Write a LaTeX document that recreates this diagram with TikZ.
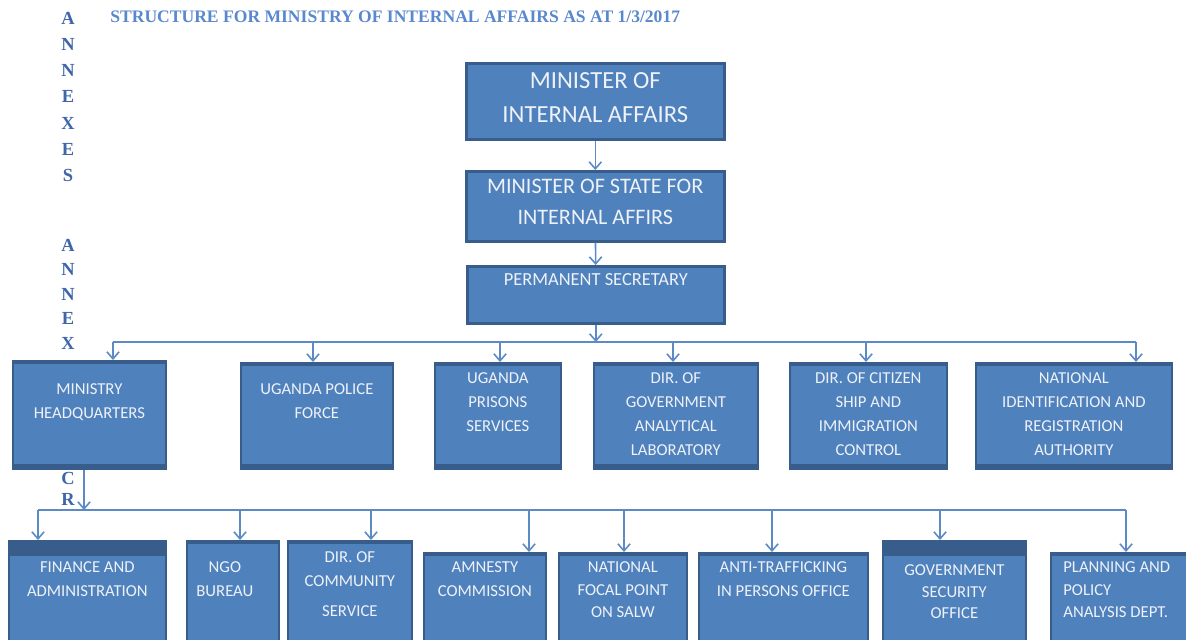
\documentclass[tikz,border=0pt]{standalone}
\usepackage{fontspec}
\usepackage{xcolor}
\usetikzlibrary{arrows.meta,positioning}

\newfontfamily\boxfont{Carlito}
\newfontfamily\headfont{Liberation Serif}

\definecolor{boxfill}{HTML}{4F81BD}
\definecolor{boxline}{HTML}{385D8A}
\definecolor{boxtext}{HTML}{EEF2F8}
\definecolor{linkblue}{HTML}{5B8AC4}
\definecolor{titleblue}{HTML}{5A88CC}
\definecolor{annexblue}{HTML}{3E66A8}

\begin{document}
\begin{tikzpicture}[
  x=0.02cm, y=-0.02cm,
  org/.style={draw=boxline, line width=1pt, fill=boxfill, anchor=north west, inner sep=0pt},
  band/.style={path picture={
      \fill[boxline] (path picture bounding box.north west) rectangle ([yshift=-#1]path picture bounding box.north east);
      \fill[boxline] (path picture bounding box.south west) rectangle ([yshift=2.5pt]path picture bounding box.south east);}},
  txt/.style={font=\boxfont\fontsize{9.5}{13.6}\selectfont, text=boxtext, align=center, inner sep=0pt, anchor=north},
  arr/.style={-{Straight Barb[length=4pt,width=7pt]}, draw=linkblue, line width=0.9pt},
  annex/.style={font=\headfont\bfseries\fontsize{10.5}{12}\selectfont, text=annexblue, inner sep=0pt}
]
\useasboundingbox (0,0) rectangle (1186,639);

% heading and the letters down the margin
\node[anchor=base west, inner sep=0pt, text=titleblue,
      font=\headfont\bfseries\fontsize{10}{12}\selectfont] (title) at (110,22.5)
  {STRUCTURE FOR MINISTRY OF INTERNAL AFFAIRS AS AT 1/3/2017};
\foreach \c [count=\i] in {A,N,N,E,X,E,S}
  \node[annex] (ua\i) at (68,{18+26.3*(\i-1)}) {\c};
\foreach \c [count=\i] in {A,N,N,E,X}
  \node[annex] (ub\i) at (68,{245+24.5*(\i-1)}) {\c};
\node[annex] (uc1) at (68,478) {C};
\node[annex] (uc2) at (68,499) {R};

% top of the tree
\node[org, line width=1.5pt, minimum width=5.16cm, minimum height=1.52cm,
      label={[txt, font=\boxfont\fontsize{14}{19.3}\selectfont, yshift=-0.2cm]north:MINISTER OF\\INTERNAL AFFAIRS}] (min) at (465,62) {};
\node[org, line width=1.5pt, minimum width=5.16cm, minimum height=1.40cm,
      label={[txt, font=\boxfont\fontsize{12.6}{17.6}\selectfont, yshift=-0.18cm]north:MINISTER OF STATE FOR\\INTERNAL AFFIRS}] (mos) at (465,170) {};
\node[org, line width=1.5pt, minimum width=5.14cm, minimum height=1.14cm,
      label={[txt, font=\boxfont\fontsize{10.5}{13}\selectfont, yshift=-0.16cm]north:PERMANENT SECRETARY}] (ps) at (466,265) {};

% departments and agencies
\node[org, band=1.6pt, minimum width=3.06cm, minimum height=2.16cm,
      label={[txt, yshift=-0.47cm]north:MINISTRY\\HEADQUARTERS}] (mhq) at (12,360) {};
\node[org, band=1.6pt, minimum width=3.04cm, minimum height=2.12cm,
      label={[txt, yshift=-0.43cm]north:UGANDA POLICE\\FORCE}] (upf) at (240,362) {};
\node[org, band=1.6pt, minimum width=2.52cm, minimum height=2.12cm,
      label={[txt, yshift=-0.21cm]north:UGANDA\\PRISONS\\SERVICES}] (ups) at (434,362) {};
\node[org, band=1.6pt, minimum width=3.28cm, minimum height=2.12cm,
      label={[txt, yshift=-0.21cm]north:DIR. OF\\GOVERNMENT\\ANALYTICAL\\LABORATORY}] (dgal) at (593,362) {};
\node[org, band=1.6pt, minimum width=3.14cm, minimum height=2.12cm,
      label={[txt, yshift=-0.21cm]north:DIR. OF CITIZEN\\SHIP AND\\IMMIGRATION\\CONTROL}] (dcic) at (789,362) {};
\node[org, band=1.6pt, minimum width=3.92cm, minimum height=2.12cm,
      label={[txt, yshift=-0.21cm]north:NATIONAL\\IDENTIFICATION AND\\REGISTRATION\\AUTHORITY}] (nira) at (975,362) {};

% units under headquarters
\node[org, band=8.5pt, minimum width=3.14cm, minimum height=2.1cm,
      label={[txt, yshift=-0.43cm]north:FINANCE AND\\ADMINISTRATION}] (fa) at (8,540) {};
\node[org, band=1.6pt, minimum width=1.84cm, minimum height=2.1cm,
      label={[txt, yshift=-0.43cm, xshift=-0.16cm]north:NGO\\BUREAU}] (ngo) at (186,540) {};
\node[org, band=1.6pt, minimum width=2.48cm, minimum height=2.1cm,
      label={[txt, yshift=-0.23cm]north:DIR. OF\\COMMUNITY\\[3.4pt]SERVICE}] (dcs) at (287,540) {};
\node[org, band=1.6pt, minimum width=2.44cm, minimum height=1.86cm,
      label={[txt, yshift=-0.19cm]north:AMNESTY\\COMMISSION}] (amn) at (423,552) {};
\node[org, band=1.6pt, minimum width=2.56cm, minimum height=1.86cm,
      label={[txt, yshift=-0.19cm, font=\boxfont\fontsize{9.5}{12.8}\selectfont]north:NATIONAL\\FOCAL POINT\\ON SALW}] (nfp) at (558,552) {};
\node[org, band=1.6pt, minimum width=3.38cm, minimum height=1.86cm,
      label={[txt, yshift=-0.19cm]north:ANTI-TRAFFICKING\\IN PERSONS OFFICE}] (atp) at (698,552) {};
\node[org, band=8.5pt, minimum width=2.86cm, minimum height=2.1cm,
      label={[txt, yshift=-0.49cm, font=\boxfont\fontsize{9.5}{12.2}\selectfont]north:GOVERNMENT\\SECURITY\\OFFICE}] (gso) at (882,540) {};
\node[org, band=1.6pt, minimum width=2.9cm, minimum height=1.86cm,
      label={[txt, align=left, anchor=north west, yshift=-0.19cm, xshift=0.26cm, font=\boxfont\fontsize{9.5}{12.8}\selectfont]north west:PLANNING AND\\POLICY\\ANALYSIS DEPT.}] (ppad) at (1050,552) {};

% chain of command
\draw[arr] (min) -- (mos);
\draw[arr] (mos) -- (ps);

% first bus and its drops
\coordinate (t-mhq) at (113,342);
\coordinate (t-upf) at (313,342);
\coordinate (t-ups) at (500,342);
\coordinate (t-dgal) at (673,342);
\coordinate (t-dcic) at (866,342);
\coordinate (t-nira) at (1136,342);
\draw[linkblue, line width=0.9pt] (t-mhq) -- (t-nira);
\draw[arr] (ps) -- (ps.south |- t-mhq);
\foreach \n in {mhq,upf,ups,dgal,dcic,nira}
  \draw[arr] (t-\n) -- (t-\n |- \n.north);

% second bus under headquarters
\coordinate (hq-out) at (84,510);
\coordinate (s-fa) at (38,510);
\coordinate (s-ngo) at (240,510);
\coordinate (s-dcs) at (371,510);
\coordinate (s-amn) at (529,510);
\coordinate (s-nfp) at (624,510);
\coordinate (s-atp) at (772,510);
\coordinate (s-gso) at (940,510);
\coordinate (s-ppad) at (1126,510);
\draw[linkblue, line width=0.9pt] (s-fa) -- (s-ppad);
\draw[arr] (mhq.south -| hq-out) -- (hq-out);
\foreach \n in {fa,ngo,dcs,amn,nfp,atp,gso,ppad}
  \draw[arr] (s-\n) -- (s-\n |- \n.north);
\end{tikzpicture}
\end{document}
